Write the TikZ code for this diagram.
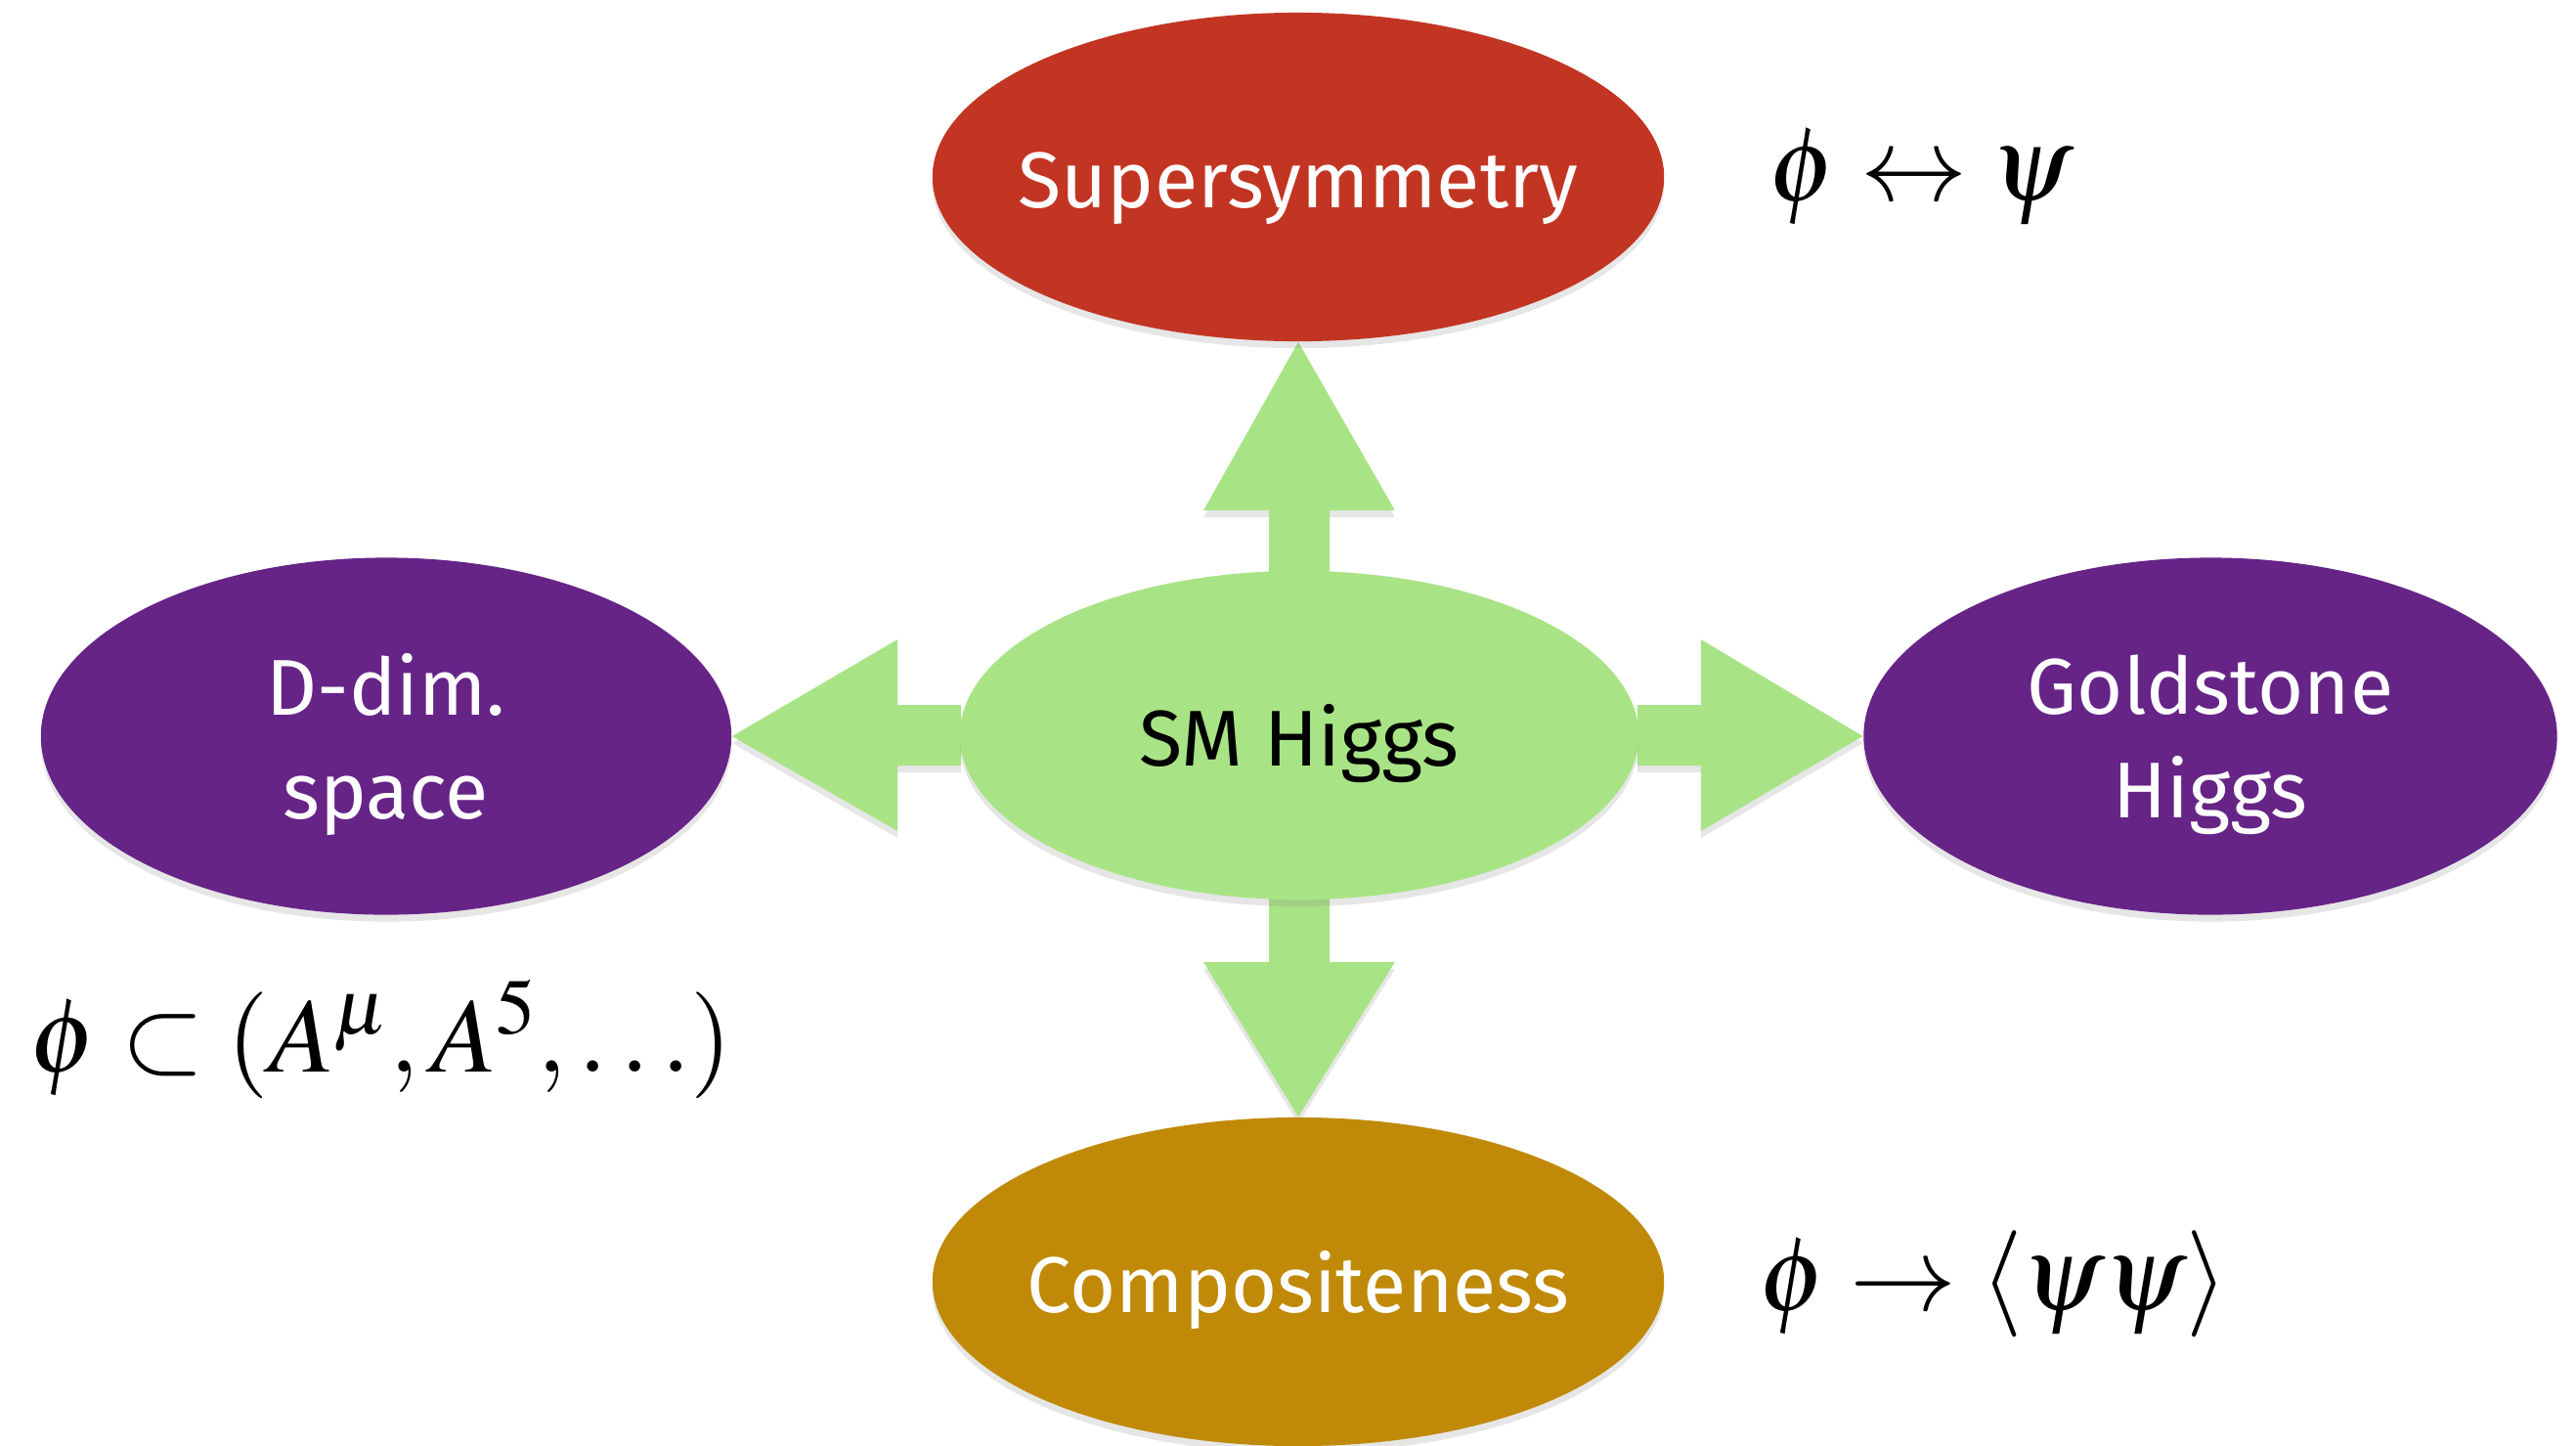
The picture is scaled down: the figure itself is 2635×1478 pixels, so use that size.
\documentclass[tikz,border=0pt]{standalone}
\usepackage{mathptmx}
\usepackage[no-math]{fontspec}
\newfontfamily\chalkfont{Fira Sans}
\usetikzlibrary{shapes.geometric,shadows,calc,backgrounds}
\definecolor{susyred}{RGB}{194,53,35}
\definecolor{smgreen}{RGB}{168,228,134}
\definecolor{xdimpurple}{RGB}{102,36,135}
\definecolor{compgold}{RGB}{192,138,8}

\begin{document}
\begin{tikzpicture}[x=0.01cm,y=-0.01cm,
     blob/.style={ellipse,inner sep=0pt,inner xsep=-1.5cm,text=white,align=center,
       font=\chalkfont\fontsize{23}{30}\selectfont,text depth=0pt,
       drop shadow={shadow xshift=0pt,shadow yshift=-2pt,opacity=.2}},
     oneline/.style={blob,text height=18pt},
     fat/.style={fill=smgreen,
       drop shadow={shadow xshift=0pt,shadow yshift=-2pt,opacity=.2}},
     rel/.style={font=\fontsize{31}{36}\selectfont}]
    \useasboundingbox (0,0) rectangle (2635,1478);
    \node[oneline,fill=susyred,minimum width=7.48cm,minimum height=3.36cm]
      (susy) at (1328,181) {Supersymmetry};
    \node[oneline,fill=smgreen,text=black,minimum width=6.94cm,minimum height=3.36cm]
      (higgs) at (1329,752) {SM Higgs};
    \node[blob,fill=xdimpurple,minimum width=7.06cm,minimum height=3.65cm]
      (ddim) at (395,753) {D-dim.\\space};
    \node[blob,fill=xdimpurple,minimum width=7.09cm,minimum height=3.65cm]
      (gold) at (2261,753) {Goldstone\\Higgs};
    \node[oneline,fill=compgold,minimum width=7.48cm,minimum height=3.36cm]
      (comp) at (1328,1311) {Compositeness};
    \begin{scope}[on background layer]
    \fill[fat] ($(higgs.north)+(-31,2)$) -- ++(0,-63) -- ++(-67,0) -- (susy.south)
      -- ($(higgs.north)+(98,-61)$) -- ++(-67,0) -- ++(0,63) -- cycle;
    \fill[fat] ($(higgs.south)+(-31,-2)$) -- ++(0,65) -- ++(-67,0) -- (comp.north)
      -- ($(higgs.south)+(98,63)$) -- ++(-67,0) -- ++(0,-65) -- cycle;
    \fill[fat] ($(higgs.east)+(-2,-31)$) -- ++(65,0) -- ++(0,-67) -- (gold.west)
      -- ($(higgs.east)+(63,98)$) -- ++(0,-67) -- ++(-65,0) -- cycle;
    \fill[fat] ($(higgs.west)+(2,-31)$) -- ++(-65,0) -- ++(0,-67) -- (ddim.east)
      -- ($(higgs.west)+(-63,98)$) -- ++(0,-67) -- ++(65,0) -- cycle;
    \end{scope}
    \node[rel] (susyrel) at (1965,181) {$\phi\leftrightarrow\psi$};
    \node[rel] (comprel) at (2039,1314) {$\phi\rightarrow\langle\psi\psi\rangle$};
    \node[rel] (ddimrel) at (390,1063) {$\phi\subset(A^\mu,A^5,\ldots)$};
  \end{tikzpicture}
\end{document}
